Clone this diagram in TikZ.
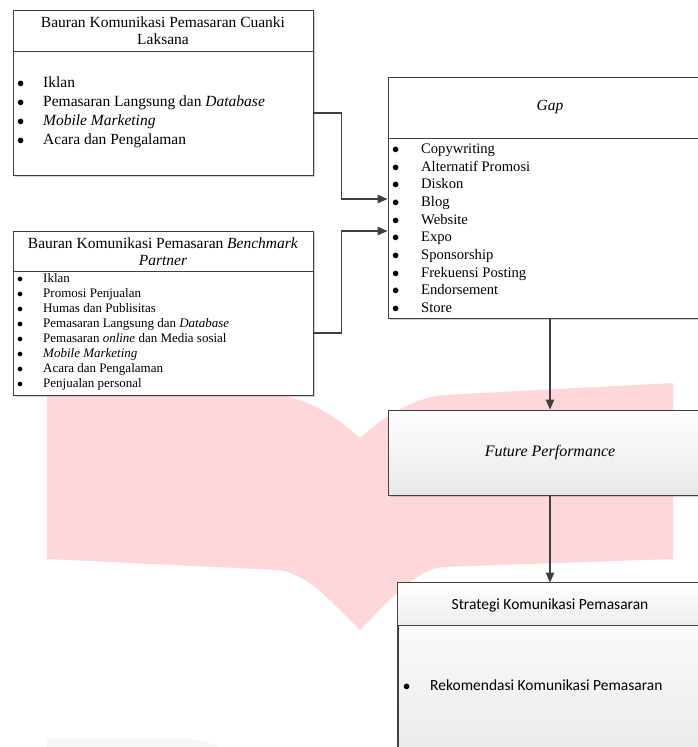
\documentclass[tikz,border=0pt]{standalone}
\usepackage{fontspec}
\setmainfont{Liberation Serif}
\newfontfamily\calibri{Carlito}
\usetikzlibrary{arrows.meta,shadows}
\definecolor{wmpink}{RGB}{255,215,218}
\definecolor{linegray}{RGB}{64,64,64}

\begin{document}
\begin{tikzpicture}[x=1pt,y=-1pt,
		box/.style={draw=linegray, line width=1pt, fill=white, inner sep=0pt,
			drop shadow={shadow xshift=2pt, shadow yshift=-2pt, fill=black!35, opacity=0.5}},
		divider/.style={draw=linegray, line width=1pt},
		conn/.style={draw=linegray, line width=1.1pt, -{Triangle[length=10pt,width=8.5pt]}},
		item/.style={anchor=west, inner sep=0pt, text height=0.7em, text depth=0.2em},
		bigitem/.style={item, font=\fontsize{15.5}{19}\selectfont},
		smallitem/.style={item, font=\fontsize{13}{15}\selectfont},
		gapitem/.style={item, font=\fontsize{14.6}{17.7}\selectfont},
		head/.style={inner sep=0pt, align=center, font=\fontsize{15.5}{17}\selectfont}]
			%%%%% START %%%%%
			
			\useasboundingbox (0,0) rectangle (698,747);
			\clip (0,0) rectangle (698,747);
			
			% background mark
			\fill[wmpink] (47,383) -- (277,395) .. controls (305,398) and (335,415) .. (360,438)
				.. controls (385,415) and (415,398) .. (443,395) -- (673,383) -- (673,559)
				-- (443,567) .. controls (415,570) and (390,600) .. (360,630)
				.. controls (330,600) and (305,572) .. (277,570) -- (47,559) -- cycle;
			\fill[black!3] (47,747) -- (47,739) -- (185,739) .. controls (200,740) and (212,743) .. (220,747) -- cycle;
			
			% Cuanki Laksana
			\node[box, minimum width=300pt, minimum height=165pt] (bauran1) at (163,92.5) {};
			\draw[divider] (bauran1.west |- 0,51) -- (bauran1.east |- 0,51);
			\node[head] (bauran1head) at (163,31) {Bauran Komunikasi Pemasaran Cuanki\\Laksana};
			\foreach \txt [count=\i] in {Iklan, Pemasaran Langsung dan \textit{Database}, \textit{Mobile Marketing}, Acara dan Pengalaman}
				\node[bigitem] (cuanki\i) at (17,66+19*\i) {\makebox[26pt][l]{$\bullet$}\txt};
			
			% Benchmark Partner
			\node[box, minimum width=300pt, minimum height=164pt] (bauran2) at (163,313) {};
			\draw[divider] (bauran2.west |- 0,271) -- (bauran2.east |- 0,271);
			\node[head] (bauran2head) at (163,252) {Bauran Komunikasi Pemasaran \textit{Benchmark}\\\textit{Partner}};
			\foreach \txt [count=\i] in {Iklan, Promosi Penjualan, Humas dan Publisitas, Pemasaran Langsung dan \textit{Database}, Pemasaran \textit{online} dan Media sosial, \textit{Mobile Marketing}, Acara dan Pengalaman, Penjualan personal}
				\node[smallitem] (partner\i) at (17,264.8+15*\i) {\makebox[26pt][l]{$\bullet$}\txt};
			
			% Gap
			\node[box, minimum width=324pt, minimum height=241pt] (gap) at (550,197.5) {};
			\draw[divider] (gap.west |- 0,138) -- (gap.east |- 0,138);
			\node[head] (gaphead) at (550,107) {\textit{Gap}};
			\foreach \txt [count=\i] in {Copywriting, Alternatif Promosi, Diskon, Blog, Website, Expo, Sponsorship, Frekuensi Posting, Endorsement, Store}
				\node[gapitem] (gapi\i) at (392,133.3+17.67*\i) {\makebox[29pt][l]{$\bullet$}\txt};
			
			% Future Performance
			\node[box, top color=white, bottom color=black!9, minimum width=324pt, minimum height=85pt,
				font=\fontsize{16}{19}\selectfont\itshape] (future) at (550,452.5) {Future Performance};
			
			% Strategi
			\node[box, top color=white, bottom color=black!10, minimum width=304pt, minimum height=217pt] (strategi) at (550,691.5) {};
			\fill[top color=white, bottom color=black!7] (strategi.north west) rectangle (strategi.east |- 0,625);
			\draw[divider] (strategi.north west) rectangle (strategi.south east);
			\draw[divider] (strategi.west |- 0,625) -- (strategi.east |- 0,625);
			\node[head, font=\calibri\fontsize{15.5}{19}\selectfont] (strategihead) at (550,605) {Strategi Komunikasi Pemasaran};
			\node[item, font=\calibri\fontsize{15.5}{19}\selectfont] (strategi1) at (403,688) {\makebox[27pt][l]{$\bullet$}Rekomendasi Komunikasi Pemasaran};
			
			% connectors
			\draw[conn] ([yshift=-20.5pt]bauran1.east) -- ++(28,0) |- ([yshift=-1.5pt]gap.west);
			\draw[conn] ([yshift=-20pt]bauran2.east) -- ++(28,0) |- ([yshift=-33.5pt]gap.west);
			\draw[conn] (gap.south) -- (future.north);
			\draw[conn] (future.south) -- (strategi.north);
			
			%%%%% END %%%%%
		\end{tikzpicture}
\end{document}
